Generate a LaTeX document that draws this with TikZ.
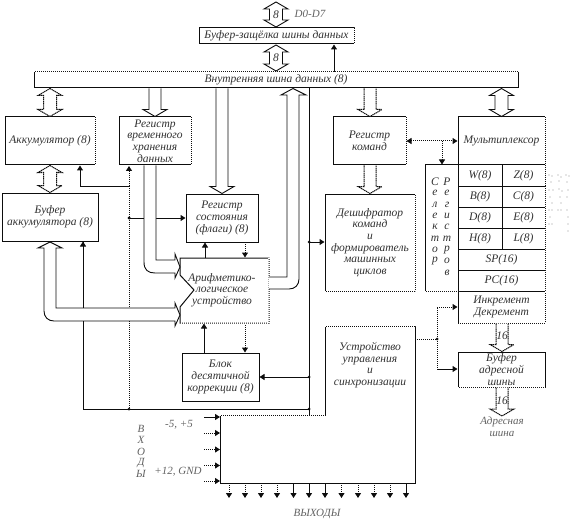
\documentclass[tikz,border=0pt]{standalone}
\usepackage{fontspec}
\setmainfont{Liberation Serif}
\usetikzlibrary{calc,arrows.meta}
\definecolor{ink}{gray}{0.05}
\tikzset{
  boxn/.style={draw=ink,line width=1pt,fill=white,inner sep=0pt,align=center,
    font=\fontsize{11.5}{11.6}\selectfont\itshape,text=ink!85},
  lab/.style={inner sep=0pt,align=center,font=\fontsize{11.5}{11.6}\selectfont\itshape,text=ink!85},
  tiny/.style={inner sep=0pt,align=center,font=\fontsize{11}{12}\selectfont\itshape,text=ink!65},
  wire/.style={draw=ink,line width=1pt},
  dwire/.style={draw=ink,line width=1pt,dash pattern=on 1pt off 1pt},
  gapline/.style={draw=white,line width=1.1pt,dash pattern=on 0.6pt off 1.4pt},
  tip/.style={-{Triangle[length=5pt,width=6pt]}},
  tips/.style={{Triangle[length=5pt,width=6pt]}-{Triangle[length=5pt,width=6pt]}},
  dotn/.style={circle,fill=ink,inner sep=0pt,minimum size=3pt},
  hollow/.style={draw=ink,line width=0.9pt,fill=white,line join=miter},
  hollowd/.style={draw=ink,line width=1pt,fill=white,dash pattern=on 1.3pt off 0.6pt}
}
% box: name, x1, y1, x2, y2, text
\newcommand{\bx}[6]{\node[boxn,minimum width=#4pt-#2pt,minimum height=#5pt-#3pt] (#1) at ({(#2+#4)/2},{(#3+#5)/2}) {#6};}
% downward block arrow: style, x, from, to
\newcommand{\darrow}[4][hollow]{\path (#2,0) coordinate (tt);
  \path (tt |- #3) coordinate (aa) (tt |- #4) coordinate (bb);
  \draw[#1] ($(aa)+(-6,0)$) -- ($(bb)+(-6,-7)$) -- ($(bb)+(-12,-7)$) -- (bb) -- ($(bb)+(12,-7)$) -- ($(bb)+(6,-7)$) -- ($(aa)+(6,0)$);}
% double-headed vertical block arrow: style, x, top, bottom
\newcommand{\dbarrow}[4][hollow]{\path (#2,0) coordinate (tt);
  \path (tt |- #3) coordinate (aa) (tt |- #4) coordinate (bb);
  \draw[#1] (aa) -- ($(aa)+(12,7)$) -- ($(aa)+(6.5,7)$) -- ($(bb)+(6.5,-7)$) -- ($(bb)+(12,-7)$) -- (bb) -- ($(bb)+(-12,-7)$) -- ($(bb)+(-6.5,-7)$) -- ($(aa)+(-6.5,7)$) -- ($(aa)+(-12,7)$) -- cycle;}
\begin{document}
\begin{tikzpicture}[x=1pt,y=-1pt]
\useasboundingbox (0,0) rectangle (573,524);
% boxes
\bx{latch}{199}{28}{354}{44}{Буфер-защёлка шины данных}
\bx{bus}{34}{72}{518}{88}{Внутренняя шина данных (8)}
\bx{acc}{5}{117}{95}{165}{Аккумулятор (8)}
\bx{temp}{119}{117}{191}{165}{Регистр\\временного\\хранения\\данных}
\bx{bufa}{2}{193}{98}{241}{Буфер\\аккумулятора (8)}
\bx{flags}{186}{194}{258}{242}{Регистр\\состояния\\(флаги) (8)}
\bx{dec}{182}{353}{259}{401}{Блок\\десятичной\\коррекции (8)}
\bx{ir}{333}{117}{406}{165}{Регистр\\команд}
\bx{decod}{325}{194}{415}{291}{Дешифратор\\команд\\и\\формирователь\\машинных\\циклов}
\bx{mux}{458}{117}{545}{165}{Мультиплексор}
\bx{sel}{425}{165}{458}{291}{}
\bx{rw}{458}{165}{502}{186}{W(8)}
\bx{rz}{502}{165}{545}{186}{Z(8)}
\bx{rb}{458}{186}{502}{207}{B(8)}
\bx{rc}{502}{186}{545}{207}{C(8)}
\bx{rd}{458}{207}{502}{228}{D(8)}
\bx{re}{502}{207}{545}{228}{E(8)}
\bx{rh}{458}{228}{502}{249}{H(8)}
\bx{rl}{502}{228}{545}{249}{L(8)}
\bx{sp}{458}{249}{545}{270}{SP(16)}
\bx{pc}{458}{270}{545}{291}{PC(16)}
\bx{inc}{458}{291}{545}{323}{Инкремент\\Декремент}
\bx{abuf}{458}{352}{545}{387}{Буфер\\адресной\\шины}
% dotted-looking box edges
\draw[gapline] (latch.north west) -- (latch.south west) -- (latch.south east) -- (latch.north east);
\draw[gapline] (bus.north west) -- (bus.north east);
\draw[gapline] (acc.north east) -- (acc.south east);
\draw[gapline] (bufa.north west) -- (bufa.south west);
\draw[gapline] (temp.north east) -- (temp.south east);
\draw[gapline] (ir.north east) -- (ir.south east);
\draw[gapline] (decod.north east) -- (decod.south east) -- (decod.south west);
\draw[gapline] (mux.north east) -- (mux.south east);
\draw[gapline] (rz.north east) -- (pc.south east);
\draw[gapline] (inc.north west) -- (inc.south west) -- (inc.south east) -- (inc.north east);
\draw[gapline] (abuf.south west) -- (abuf.south east);
\draw[gapline] (sel.south west) -- (sel.south east);
% selector text
\foreach \c [count=\i] in {С,е,л,е,к,т,о,р}{\node[lab] at (435,{182+(\i-1)*11.3}) {\c};}
\foreach \c [count=\i] in {Р,е,г,и,с,т,р,о,в}{\node[lab] at (447,{182+(\i-1)*11.3}) {\c};}
% specks beside the register block
\foreach \x/\y in {549/175,552/176,558/175,561/177,566/175,569/176,551/182,559/181,567/182,
  549/190,553/190,559/189,562/191,568/190,550/197,560/197,567/197,552/203,561/203,
  549/210,552/210,558/210,561/210,567/210,550/217,568/217,549/224,552/224,568/224,568/231}
  {\fill[ink!45] (\x,\y) circle (0.7pt);}
% control unit
\draw[draw=ink,line width=1pt,fill=white] (325,326) -- (415,326) -- (415,483) -- (220,483) -- (220,415) -- (325,415) -- cycle;
\draw[gapline] (325,326) -- (415,326);
\draw[gapline] (220,415) -- (325,415);
\node[lab] (cu) at (370,365) {Устройство\\управления\\и\\синхронизации};
% junctions
\node[dotn] (j1) at (129,218) {};
\node[dotn] (j2) at (129,409) {};
\node[dotn] (j3) at (309,409) {};
\node[dotn] (j4) at (309,377) {};
\node[dotn] (j5) at (309,242) {};
\node[dotn] (j6) at (437,339) {};
\coordinate (j7) at (83,409);
\coordinate (c1) at (442,141);
% thin wires under block arrows
\draw[wire] (j7) -- (j3.center);
\draw[wire,tip] (j7) -- (83,241.5);
\draw[wire,tip] (129,186) -- (80,186) -- (80,165.5);
\draw[dwire,tip] (129,186) -- (129,166);
\draw[wire,tip] (j1.center) -- (flags.west |- j1);
\draw[wire] (309,88) -- (309,415);
\draw[wire,tip] (j4.center) -- (dec.east |- j4);
\draw[wire,tip] (j5.center) -- (decod.west |- j5);
\draw[wire,tip] (334,72) -- (334,44.5);
% control lines around ALU
\draw[wire,tip] (204,353) -- (204,323.5);
\draw[dwire,tip] (245,323) -- (245,352.5);
\draw[wire,tip] (205,258) -- (205,242.5);
\draw[dwire,tip] (245,242) -- (245,257.5);
% mux links
\draw[dwire,tips] (ir.east |- c1) -- (mux.west |- c1);
\draw[dwire,tip] (c1) -- (c1 |- sel.north);
% CU right side
\draw[dwire] (415,339) -- (j6.center);
\draw[dwire,tip] (j6.center) -- (437,307) -- (inc.west |- 0,307);
\draw[dwire] (j6.center) -- (437,369);
\draw[wire,tip] (437,369) -- (abuf.west |- 0,369);
% ALU
\draw[draw=ink,line width=1pt,fill=white] (180,258) -- (269,258) -- (269,323) -- (180,323) -- (180,307) -- (194,290) -- (180,275) -- cycle;
\draw[gapline] (269,258) -- (269,323) -- (180,323);
\node[lab] (alu) at (222,290) {Арифметико-\\логическое\\устройство};
% block arrows
\dbarrow{276}{276,2}{276,27}
\dbarrow{276}{276,45}{276,71}
\dbarrow[hollowd]{50}{bus.south}{acc.north}
\dbarrow[hollowd]{50}{acc.south}{bufa.north}
\dbarrow{501.5}{bus.south}{mux.north}
\darrow{155}{bus.south}{temp.north}
\darrow{222}{bus.south}{flags.north}
\darrow[hollowd]{370}{bus.south}{ir.north}
\darrow[hollowd]{370}{ir.south}{decod.north}
\darrow[hollowd]{502}{inc.south}{abuf.north}
\darrow[hollowd]{502}{abuf.south}{502,416}
\node[lab] at (276,15) {8};
\node[lab] at (276,58) {8};
\node[lab] at (502,336) {16};
\node[lab] at (502,401) {16};
% temp -> ALU (upper)
\draw[hollow] (144,165.5) -- (144,262) .. controls (144,270) and (148,273) .. (155,273) -- (175,273) -- (175,278) -- (180,267) -- (175,254) -- (175,260) -- (156,260) -- (156,165.5);
% buffer <-> ALU (lower)
\draw[hollow] (50,242) -- (62,248) -- (56,248) -- (56,308) -- (175,308) -- (175,303) -- (180,315) -- (175,326) -- (175,321) -- (54,321) .. controls (48,321) and (44,317) .. (44,311) -- (44,248) -- (38,248) -- cycle;
% ALU -> bus (up arrow)
\draw[hollow] (269,289) -- (289,289) .. controls (295,289) and (299,285) .. (299,279) -- (299,95) -- (306,95) -- (293,88.5) -- (281,95) -- (287,95) -- (287,277) -- (269,277);
% wires passing the lower block arrow
\draw[wire] (83,241.5) -- (83,308);
\draw[wire] (83,321) -- (83,409);
\draw[dwire] (129,186) -- (129,308);
\draw[dwire] (129,321) -- (j2.center);
\node[dotn] at (129,218) {};
% CU inputs
\foreach \y/\s in {417/wire,433/dwire,449.5/dwire,465.5/dwire,481/dwire}{\draw[\s,tip] (204,\y) -- (220,\y);}
% CU outputs
\foreach \x/\s in {229/dwire,245/dwire,261/dwire,277/dwire,293.5/wire,309/wire,325/wire,341.5/dwire,358/dwire,374/dwire,390/dwire,406/wire}{\draw[\s,tip] (\x,483) -- (\x,498);}
% texts
\node[tiny] (d07) at (310,14) {D0-D7};
\node[tiny] (addr) at (502,427) {Адресная\\шина};
\node[tiny] (vyh) at (317,514) {ВЫХОДЫ};
\node[tiny] (v5) at (179,425) {-5, +5};
\node[tiny] (v12) at (178,472) {+12, GND};
\foreach \c [count=\i] in {В,Х,О,Д,Ы}{\node[tiny] at (141,{429+(\i-1)*11.3}) {\c};}
\end{tikzpicture}
\end{document}
